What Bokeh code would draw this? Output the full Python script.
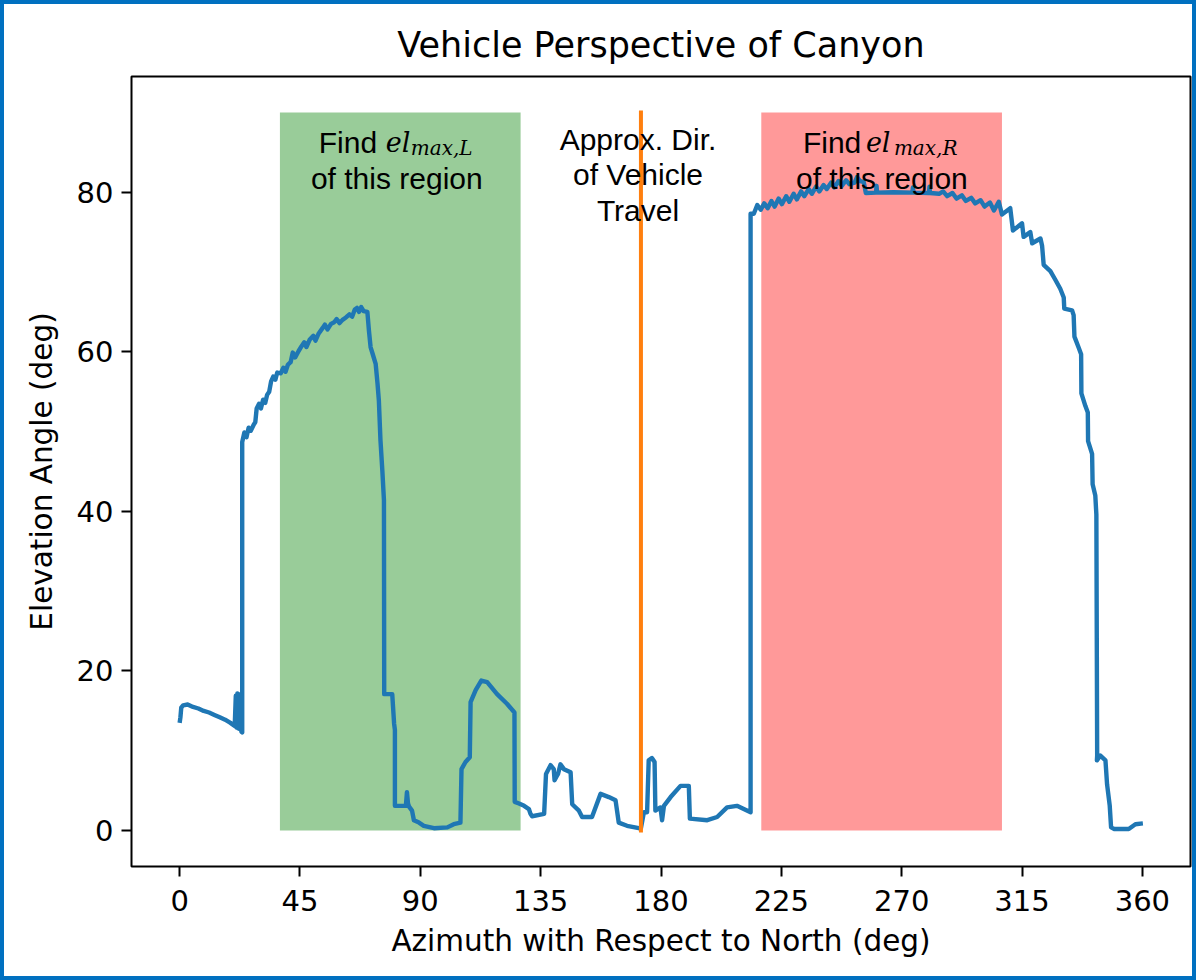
from bokeh.plotting import figure
from bokeh.models import Range1d, Label, FixedTicker
from bokeh.embed import file_html
from bokeh.resources import INLINE

# Horizon profile seen from the vehicle: azimuth (deg) vs elevation of the canyon edge (deg)
azimuth_deg = [
    0.0, 0.3, 0.6, 1.3, 3.0, 5.0, 7.0, 9.0, 11.0, 13.0, 15.0, 17.0, 19.0, 20.6,
    21.0, 21.3, 21.6, 21.9, 22.2, 22.5, 22.8, 23.1, 23.4,
    23.4, 24.2, 25.0, 25.8, 26.6, 27.6, 28.3, 28.8, 29.7, 30.4, 31.2, 32.0, 32.7,
    33.5, 34.2, 35.0, 35.8, 36.5, 37.8, 38.8, 39.6, 40.5, 41.5, 42.3, 43.2, 44.5,
    45.6, 46.6, 47.4, 48.6, 50.0, 50.8, 52.0, 53.5, 54.3, 55.3, 56.6, 57.8, 58.7,
    59.8, 60.9, 62.2, 63.5, 64.5, 65.5, 66.3, 67.1, 67.9, 68.8, 70.2,
    70.8, 71.4, 72.3, 73.3, 74.0, 74.5, 75.1, 75.8, 76.4, 76.5, 79.5, 79.8, 80.2,
    80.5, 80.5, 83.9, 84.6, 85.0, 85.4, 85.8, 86.9, 87.6, 89.5, 91.3, 95.1,
    100.1, 102.5, 105.0, 105.4, 106.9, 108.5, 108.8, 110.7, 112.8, 115.0, 118.7,
    122.4, 125.2, 125.3, 126.9, 128.8, 130.6, 131.2, 131.8, 136.3, 137.0, 138.7,
    139.9, 140.2, 141.0, 141.5, 142.4, 143.7, 146.2, 146.8, 149.3, 150.5, 154.2,
    157.4, 160.5, 163.0, 164.2, 167.3, 171.7, 172.5, 173.6, 174.8, 175.4, 176.6,
    177.6, 177.9, 179.8, 180.4, 181.1, 183.6, 187.3, 190.4, 190.8, 197.3, 201.0,
    204.7, 208.4, 213.5,
    213.5, 214.7, 216.0, 217.3, 218.6, 219.9, 221.3, 222.5, 224.0, 225.2, 226.8,
    228.0, 229.6, 230.8, 232.4, 233.6, 235.2, 236.4, 238.0, 239.2, 240.8, 242.0,
    243.6, 244.8, 246.4, 247.6, 249.2, 250.4, 252.4, 253.3, 254.4, 255.8, 256.6,
    260.4, 260.6, 260.8, 267.0, 274.0, 274.2, 274.4, 280.2, 280.4, 280.6, 284.0,
    285.5, 287.0, 289.0, 290.5, 292.5, 294.0, 296.0, 297.5, 299.5, 301.0, 303.0,
    304.5, 306.3, 307.5, 310.6, 311.6, 315.0, 315.6, 318.1, 318.8, 321.9, 322.5,
    323.1, 325.6, 327.5, 329.3, 330.6, 330.8, 333.7, 334.3, 334.6, 336.2, 337.1,
    337.2, 338.7, 339.6, 339.7, 341.2, 341.4, 342.4, 342.8, 343.1, 343.0, 344.3,
    346.2, 346.8, 347.8, 348.3, 349.5, 354.9, 357.4, 360.2,
]
elevation_deg = [
    13.5, 14.2, 15.4, 15.7, 15.8, 15.5, 15.3, 15.0, 14.8, 14.5, 14.2, 13.9, 13.5, 13.1,
    16.9, 12.9, 17.2, 12.8, 17.1, 12.7, 16.8, 12.4, 12.3,
    48.7, 49.9, 49.3, 50.5, 50.1, 50.8, 51.2, 52.9, 53.5, 52.9, 54.0, 53.6, 54.6,
    55.0, 56.3, 56.9, 56.5, 57.4, 57.3, 58.0, 57.5, 58.4, 58.7, 59.9, 59.3, 60.1,
    60.7, 61.2, 60.6, 61.5, 62.0, 61.4, 62.3, 63.0, 63.4, 62.8, 63.5, 63.7, 64.1,
    63.6, 64.0, 64.3, 64.7, 64.4, 65.3, 65.5, 65.0, 65.6, 65.1, 65.0,
    62.6, 60.6, 59.6, 58.5, 56.0, 53.9, 48.9, 45.1, 41.4, 17.1, 17.1, 15.5, 13.4,
    12.6, 3.1, 3.1, 3.1, 4.8, 3.4, 3.0, 2.5, 1.3, 1.0, 0.6, 0.3,
    0.4, 0.8, 1.0, 7.7, 8.6, 9.2, 16.1, 17.6, 18.8, 18.6, 17.1,
    15.9, 14.8, 3.6, 3.4, 3.1, 2.7, 2.1, 1.8, 2.1, 7.1, 8.2,
    7.7, 6.3, 6.8, 7.1, 8.3, 7.7, 7.3, 3.3, 2.5, 1.7, 1.7,
    4.6, 4.2, 3.8, 1.0, 0.6, 0.3, 0.3, 2.3, 2.3, 8.8, 9.1,
    8.6, 2.5, 2.9, 1.3, 3.1, 4.2, 5.6, 5.6, 1.5, 1.3, 1.7,
    2.9, 3.1, 2.3,
    77.3, 77.3, 78.4, 77.8, 78.6, 78.0, 78.9, 78.2, 79.2, 78.5, 79.5,
    78.8, 79.8, 79.1, 80.1, 79.5, 80.4, 79.8, 80.7, 80.1, 80.9, 80.4,
    81.2, 80.6, 81.4, 80.8, 81.5, 81.0, 81.2, 81.9, 81.4, 81.3, 79.9,
    79.95, 80.8, 79.95, 80.0, 79.95, 80.6, 79.95, 79.9, 80.7, 79.9, 79.8,
    80.1, 79.5, 79.9, 79.2, 79.6, 78.9, 79.3, 78.6, 79.0, 78.2, 78.7,
    77.7, 78.8, 77.2, 78.0, 75.2, 76.1, 74.4, 75.0, 73.6, 74.2, 73.3,
    70.9, 70.1, 69.0, 67.9, 66.8, 65.4, 65.2, 64.6, 61.9, 60.5, 59.7,
    54.8, 53.2, 52.4, 48.8, 47.2, 43.4, 42.0, 39.6, 9.4, 8.8, 9.4,
    8.8, 5.8, 3.1, 0.4, 0.2, 0.2, 0.8, 0.9,
]

# Approximate heading of the vehicle and the two side search windows
travel_azimuth = 172.5
left_region = [37.5, 127.5]
right_region = [217.5, 307.5]
region_bottom = 0
region_top = 90

x_ticks = [0, 45, 90, 135, 180, 225, 270, 315, 360]
y_ticks = [0, 20, 40, 60, 80]

TICK_FONT = "DejaVu Sans"
NOTE_FONT = "Liberation Sans"
MATH_FONT = "DejaVu Serif"

p = figure(
    width=1196, height=980,
    output_backend="svg", toolbar_location=None,
    x_range=Range1d(-18, 378), y_range=Range1d(-4.5, 94.5),
    min_border_left=131, min_border_right=6,
    min_border_top=76, min_border_bottom=114,
    title="Vehicle Perspective of Canyon",
)
# blue frame painted by the host element behind a transparent border area
p.styles = {"background-color": "white", "box-shadow": "inset 0 0 0 4px #0070c0"}
p.background_fill_color = "white"
p.border_fill_alpha = 0
p.outline_line_color = "black"
p.outline_line_width = 2
p.xgrid.visible = False
p.ygrid.visible = False

p.title.align = "center"
p.title.text_font = TICK_FONT
p.title.text_font_size = "35px"
p.title.text_font_style = "normal"
p.title.text_color = "black"
p.title.standoff = 23

for ax, ticks in ((p.xaxis, x_ticks), (p.yaxis, y_ticks)):
    ax.ticker = FixedTicker(ticks=ticks)
    ax.axis_line_color = None
    ax.major_tick_in = 0
    ax.major_tick_out = 10
    ax.major_tick_line_width = 2
    ax.major_tick_line_color = "black"
    ax.minor_tick_line_color = None
    ax.major_label_text_font = TICK_FONT
    ax.major_label_text_font_size = "29px"
    ax.major_label_text_color = "black"
    ax.axis_label_text_font = TICK_FONT
    ax.axis_label_text_font_size = "29.5px"
    ax.axis_label_text_font_style = "normal"
    ax.axis_label_text_color = "black"

p.xaxis.major_label_standoff = 13
p.xaxis.axis_label_standoff = 10
p.yaxis.major_label_standoff = 8
p.yaxis.axis_label_standoff = 15

p.xaxis.axis_label = "Azimuth with Respect to North (deg)"
p.yaxis.axis_label = "Elevation Angle (deg)"

# Shaded search windows
p.quad(left=[left_region[0]], right=[left_region[1]], bottom=[region_bottom], top=[region_top],
       fill_color="#008000", fill_alpha=0.4, line_color=None)
p.quad(left=[right_region[0]], right=[right_region[1]], bottom=[region_bottom], top=[region_top],
       fill_color="#ff0000", fill_alpha=0.4, line_color=None)

# Elevation profile
p.line(azimuth_deg, elevation_deg, line_color="#1f77b4", line_width=4.4, line_join="round")

# Direction of travel
p.line([travel_azimuth, travel_azimuth], [region_bottom, region_top],
       line_color="#ff7f0e", line_width=4, line_cap="square")


def note(x, y, text, size, font=NOTE_FONT, style="normal", align="center", dx=0, dy=0):
    p.add_layout(Label(x=x, y=y, text=text, text_font=font, text_font_size=f"{size}px",
                       text_font_style=style, text_align=align, text_baseline="alphabetic",
                       x_offset=dx, y_offset=dy, text_color="black"))


left_mid = 81.2
right_mid = 262.6

note(left_mid, 86.2, "Find ", 30, align="left", dx=-78)
note(left_mid, 86.2, "el", 27, font=MATH_FONT, style="italic", align="left", dx=-11)
note(left_mid, 86.2, "max,L", 20, font=MATH_FONT, style="italic", align="left", dx=14, dy=-5)
note(left_mid, 81.7, "of this region", 30)

note(right_mid, 86.2, "Find ", 30, align="left", dx=-79)
note(right_mid, 86.2, "el", 27, font=MATH_FONT, style="italic", align="left", dx=-16)
note(right_mid, 86.2, "max,R", 20, font=MATH_FONT, style="italic", align="left", dx=12, dy=-5)
note(right_mid, 81.7, "of this region", 30)

travel_mid = 171.4
note(travel_mid, 86.6, "Approx. Dir.", 30)
note(travel_mid, 82.2, "of Vehicle", 30)
note(travel_mid, 77.7, "Travel", 30)

open("out.html", "w").write(file_html(p, INLINE))
